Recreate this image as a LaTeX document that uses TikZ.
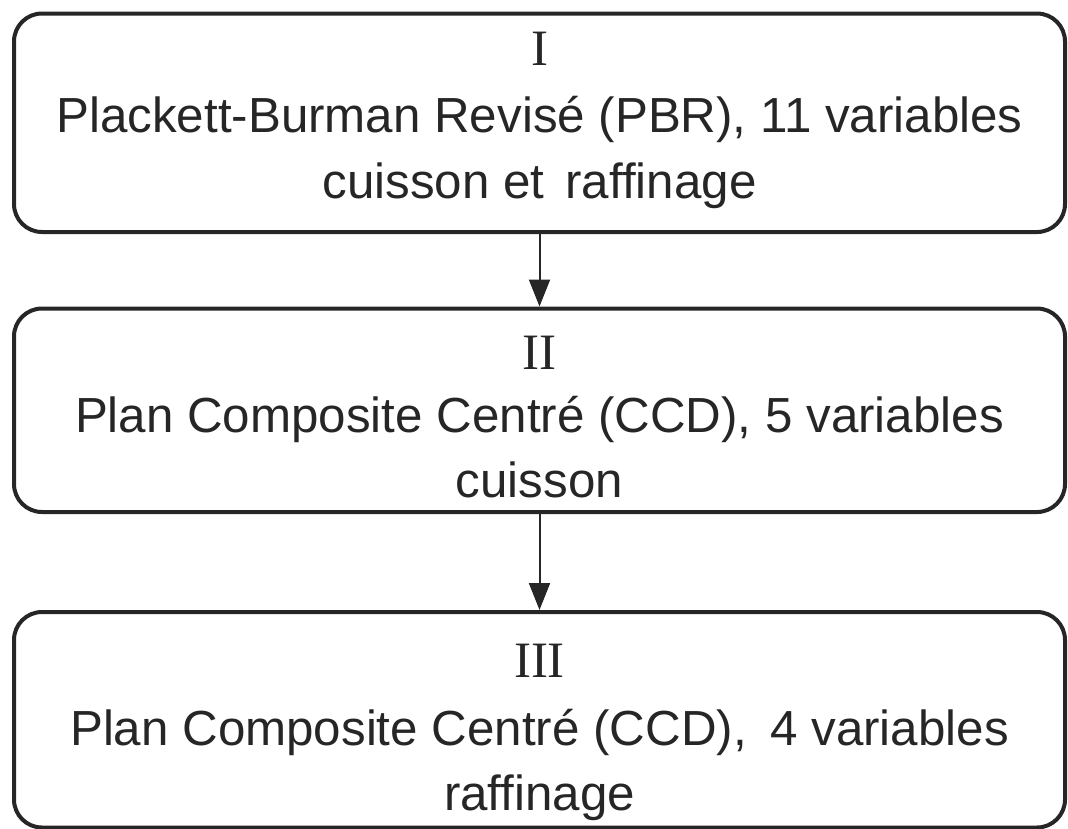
\documentclass[tikz,border=0pt]{standalone}
\usepackage{fontspec}
\setmainfont{Liberation Sans}
\newfontfamily\numfont{Liberation Serif}
\usetikzlibrary{arrows.meta}
\definecolor{ink}{HTML}{262626}
\begin{document}
\begin{tikzpicture}[x=1pt,y=-1pt,
  stage/.style={draw=ink, line width=4pt, rounded corners=28pt,
    minimum width=1051pt, inner sep=0pt, anchor=north},
  numeral/.style={anchor=base, inner sep=0pt, text=ink,
    font=\numfont\fontsize{51}{51}\selectfont},
  textline/.style={anchor=base, inner sep=0pt, text=ink,
    font=\fontsize{49.3}{49.3}\selectfont},
  link/.style={draw=ink, line width=2pt, -{Triangle[length=27pt,width=21pt]}}]
\useasboundingbox (0,0) rectangle (1068,828);

% the three stages
\node[stage, minimum height=218.5pt] (b1) at (539.5,11.5) {};
\node[stage, minimum height=203.5pt] (b2) at (539.5,306.5) {};
\node[stage, minimum height=215.5pt] (b3) at (539.5,610) {};

% stage I
\node[numeral]  (n1) at (539.5,65)  {I};
\node[textline] (t1a) at (539.5,132) {Plackett-Burman Revisé (PBR), 11 variables};
\node[textline] (t1b) at (539.5,198) {cuisson et\hspace{0.15em} raffinage};

% stage II
\node[numeral]  (n2) at (539.5,369) {II};
\node[textline] (t2a) at (539.5,432) {Plan Composite Centré (CCD), 5 variables};
\node[textline] (t2b) at (539.5,497) {cuisson};

% stage III
\node[numeral]  (n3) at (539.5,677) {III};
\node[textline] (t3a) at (539.5,745) {Plan Composite Centré (CCD),\hspace{0.2em} 4 variables};
\node[textline] (t3b) at (539.5,810) {raffinage};

% connectors
\draw[link] (b1.south) -- (b2.north);
\draw[link] (b2.south) -- (b3.north);
\end{tikzpicture}
\end{document}
